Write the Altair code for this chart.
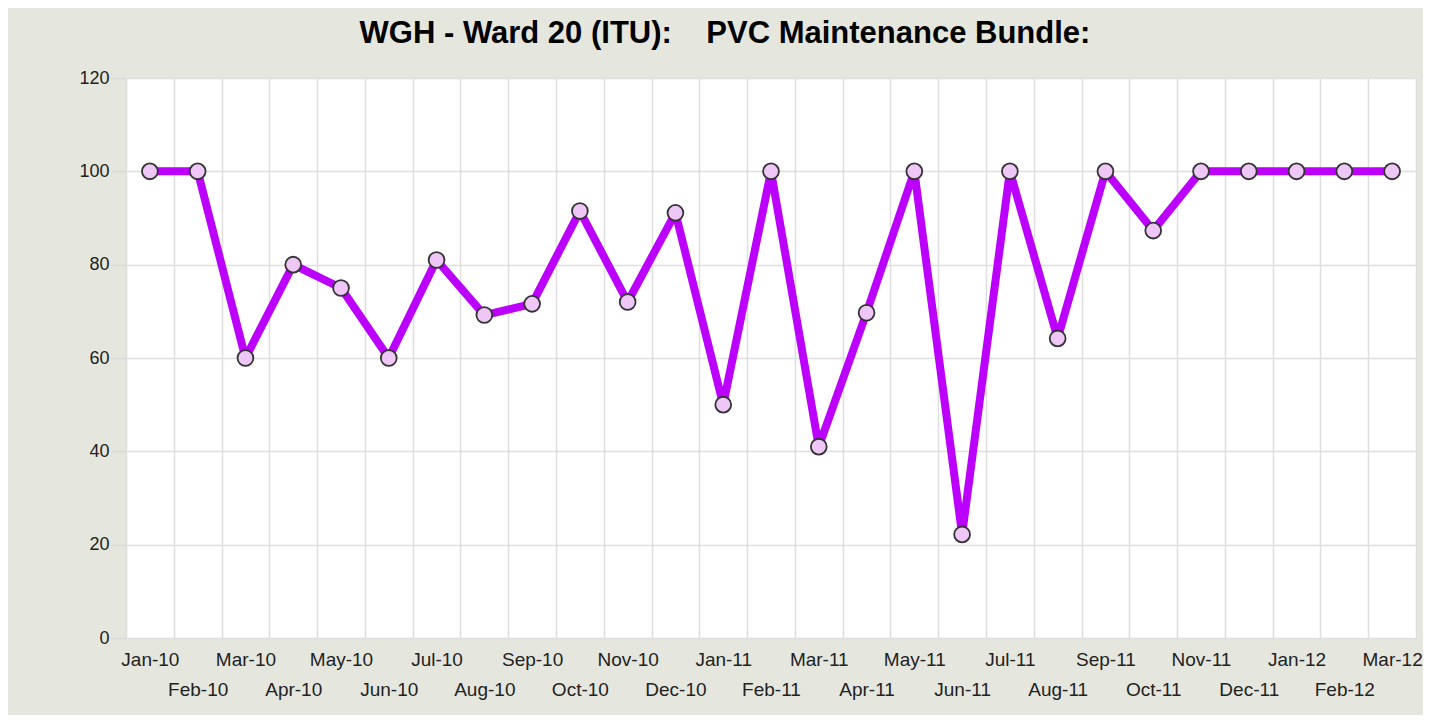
import altair as alt
import pandas as pd

months = ["Jan-10", "Feb-10", "Mar-10", "Apr-10", "May-10", "Jun-10", "Jul-10",
          "Aug-10", "Sep-10", "Oct-10", "Nov-10", "Dec-10", "Jan-11", "Feb-11",
          "Mar-11", "Apr-11", "May-11", "Jun-11", "Jul-11", "Aug-11", "Sep-11",
          "Oct-11", "Nov-11", "Dec-11", "Jan-12", "Feb-12", "Mar-12"]
values = [100, 100, 60, 80, 75, 60, 81, 69.2, 71.6, 91.5, 72, 91.1, 50, 100,
          41, 69.7, 100, 22.2, 100, 64.2, 100, 87.3, 100, 100, 100, 100, 100]
y_ticks = [0, 20, 40, 60, 80, 100, 120]
title_text = "WGH - Ward 20 (ITU):\u00a0\u00a0\u00a0\u00a0PVC Maintenance Bundle:"

df = pd.DataFrame({"month": months, "value": values})

x = alt.X(
    "month:O", sort=months,
    scale=alt.Scale(type="band", paddingInner=0, paddingOuter=0),
    axis=alt.Axis(
        title=None, labelAngle=0, tickBand="extent", ticks=False, domain=False,
        grid=True, gridColor="#DEDEDE", gridWidth=1.5, labelOverlap=False,
        labelExpr="test(/^(Feb|Apr|Jun|Aug|Oct|Dec)/, datum.value) ? ['', datum.value] : datum.value",
        labelLineHeight=30, labelFontSize=19, labelPadding=12, labelBaseline="top",
        labelColor="#222222", labelFont="Liberation Sans",
    ),
)
y = alt.Y(
    "value:Q",
    scale=alt.Scale(domain=[0, 120]),
    axis=alt.Axis(
        title=None, values=y_ticks, domain=False, tickColor="#D8D8D8", tickSize=15,
        tickWidth=1.5, labelPadding=2, labelFontSize=18, labelColor="#222222",
        labelFont="Liberation Sans", gridColor="#DEDEDE", gridWidth=1.5,
    ),
)

base = alt.Chart(df)
line = base.mark_line(color="#BB00FF", strokeWidth=8, strokeJoin="round").encode(x=x, y=y)
points = base.mark_point(
    shape="circle", filled=True, size=250, fill="#EFC7F7", stroke="#333333",
    strokeWidth=1.8, opacity=1,
).encode(x=x, y=y)

chart = (
    alt.layer(line, points)
    .properties(
        width=1290, height=560,
        padding={"left": 118, "top": 70, "right": 7, "bottom": 77},
        autosize=alt.AutoSizeParams(type="none"),
        background="#E5E7DF",
        title=alt.TitleParams(
            title_text, fontSize=31, font="Liberation Sans", fontWeight="bold",
            anchor="middle", dx=-46, dy=42, offset=37, baseline="alphabetic", color="#000000",
        ),
    )
    .configure_view(stroke=None, fill="#FFFFFF")
)

chart.save("out.html", embed_options={"renderer": "svg", "actions": False})
